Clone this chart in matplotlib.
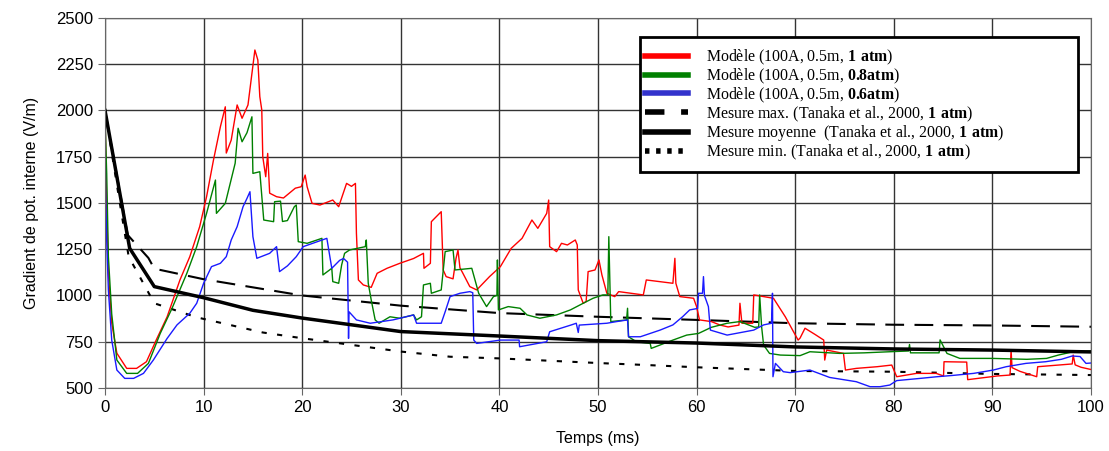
import numpy as np
import matplotlib.pyplot as plt
from matplotlib.lines import Line2D
from matplotlib.patches import Rectangle

plt.rcParams['font.family'] = ['Liberation Sans', 'DejaVu Sans']
plt.rcParams['mathtext.fontset'] = 'custom'
plt.rcParams['mathtext.rm'] = 'Liberation Serif'
plt.rcParams['mathtext.bf'] = 'Liberation Serif:bold'

# Modele 1 atm (rouge)
red_t = [0.0, 0.05, 0.17, 0.34, 0.68, 1.2, 2.2, 3.2, 4.2, 5.2, 6.3, 7.6, 8.6, 9.6, 10.3, 11.0, 11.7, 12.2,
         12.3, 12.8, 13.4, 13.9, 14.5, 14.9, 15.2, 15.5, 15.7, 15.9, 16.0, 16.3, 16.5, 16.7, 17.4, 18.1,
         19.3, 19.9, 20.3, 20.5, 21.0, 21.8, 23.1, 23.7, 24.5, 25.0, 25.4, 25.5, 25.7, 26.2, 27.0, 27.6,
         28.6, 29.9, 31.3, 32.3, 32.35, 33.0, 33.1, 34.1, 34.3, 34.6, 35.3, 35.6, 35.8, 36.0, 36.3, 37.0,
         37.7, 39.0, 40.1, 41.2, 42.3, 43.3, 43.9, 44.8, 45.0, 45.1, 45.8, 46.3, 46.9, 47.7, 47.9, 48.0,
         48.5, 48.8, 49.0, 49.7, 50.1, 50.4, 50.9, 51.7, 52.1, 54.6, 54.9, 57.6, 57.8, 57.9, 58.3, 59.7,
         60.0, 60.3, 61.5, 62.4, 63.2, 64.3, 64.4, 64.6, 65.7, 65.8, 67.8, 69.0, 70.3, 70.5, 71.0, 72.0,
         72.9, 73.0, 73.2, 74.9, 75.1, 76.2, 78.3, 79.8, 80.3, 82.3, 84.3, 85.05, 85.1, 87.4, 87.5, 89.0,
         90.5, 91.8, 91.9, 92.0, 92.8, 94.5, 94.6, 97.0, 98.1, 98.2, 98.4, 99.0, 100.0]
red_v = [1980, 1840, 1480, 1121, 851, 688, 606, 606, 642, 760, 885, 1084, 1210, 1372, 1534, 1732, 1912, 2020,
         1770, 1840, 2030, 1958, 2030, 2200, 2327, 2273, 2075, 2003, 1750, 1642, 1768, 1553, 1534, 1527,
         1580, 1588, 1651, 1588, 1498, 1489, 1516, 1480, 1606, 1590, 1606, 1336, 1084, 1057, 1044, 1120,
         1147, 1174, 1200, 1228, 1147, 1174, 1399, 1453, 1138, 1102, 1090, 1200, 1246, 1150, 1120, 1048,
         1030, 1102, 1156, 1255, 1309, 1408, 1363, 1444, 1516, 1264, 1237, 1282, 1273, 1300, 1273, 1030,
         958, 967, 1129, 1138, 1192, 1111, 1012, 994, 1021, 1003, 1084, 1066, 1201, 1066, 994, 985,
         940, 868, 859, 840, 830, 840, 958, 850, 850, 1003, 985, 885, 759, 770, 823, 790,
         759, 651, 705, 687, 597, 606, 615, 624, 561, 579, 579, 565, 642, 640, 545, 555,
         565, 570, 705, 610, 590, 561, 615, 625, 630, 678, 625, 612, 600]

# Modele 0.8 atm (vert)
green_t = [0.0, 0.17, 0.34, 0.68, 1.2, 2.2, 3.3, 4.4, 5.6, 6.8, 8.3, 9.3, 10.3, 11.2, 11.3, 12.2, 13.2, 13.5,
           13.9, 14.4, 14.9, 15.0, 15.7, 16.1, 17.1, 17.2, 17.8, 18.0, 18.5, 19.2, 19.4, 19.6, 20.5, 22.0,
           22.1, 23.0, 23.1, 23.7, 24.0, 24.3, 24.8, 26.4, 26.5, 26.7, 27.0, 27.4, 27.8, 28.9, 29.9, 31.3,
           31.6, 32.1, 32.3, 33.0, 33.1, 34.1, 34.5, 35.3, 35.5, 37.2, 37.9, 38.7, 39.4, 39.75, 39.8, 39.9,
           40.9, 42.1, 42.8, 44.1, 45.8, 47.2, 48.5, 49.5, 50.5, 51.0, 51.1, 51.3, 52.9, 53.0, 53.1, 53.9,
           55.3, 55.4, 57.6, 59.0, 60.2, 61.5, 63.1, 64.4, 65.9, 66.3, 66.4, 66.6, 66.8, 67.4, 68.5, 70.5,
           71.5, 74.5, 77.0, 79.6, 81.5, 81.6, 81.7, 84.6, 84.7, 85.4, 86.7, 90.0, 93.5, 95.5, 96.7, 98.2,
           100.0]
green_v = [1950, 1660, 1210, 900, 651, 579, 579, 633, 795, 931, 1120, 1264, 1444, 1624, 1444, 1498, 1715, 1904,
           1831, 1880, 1966, 1660, 1669, 1408, 1399, 1507, 1510, 1400, 1405, 1480, 1489, 1291, 1282, 1309,
           1111, 1147, 1075, 1066, 1165, 1228, 1246, 1264, 1300, 1066, 976, 868, 850, 885, 877, 895,
           868, 885, 1057, 1066, 1012, 1030, 1237, 1246, 1138, 1147, 1012, 940, 994, 1000, 1192, 922,
           940, 931, 895, 877, 895, 922, 958, 985, 1003, 1003, 1318, 859, 868, 931, 777, 750,
           741, 714, 759, 786, 795, 828, 850, 859, 828, 830, 1003, 830, 732, 687, 678, 675,
           696, 687, 690, 696, 700, 735, 690, 690, 760, 687, 660, 660, 655, 660, 678, 696,
           700]

# Modele 0.6 atm (bleu)
blue_t = [0.0, 0.05, 0.17, 0.34, 0.68, 1.2, 2.0, 2.9, 3.9, 4.9, 6.3, 7.3, 8.6, 9.3, 10.0, 10.8, 11.7, 12.3,
          12.8, 13.4, 14.0, 14.4, 14.7, 15.0, 15.4, 16.7, 17.4, 17.7, 18.5, 19.4, 20.1, 22.5, 23.0, 23.8,
          24.2, 24.6, 24.7, 24.75, 25.5, 26.9, 29.2, 31.3, 31.6, 34.1, 34.5, 35.0, 36.0, 37.0, 37.3, 37.4,
          37.7, 40.1, 42.0, 42.05, 44.8, 45.1, 47.3, 47.8, 48.0, 48.1, 50.9, 51.9, 53.0, 53.1, 54.3, 56.3,
          57.6, 58.6, 59.3, 60.1, 60.2, 60.6, 60.7, 60.8, 61.2, 61.4, 63.1, 65.8, 66.8, 67.6, 67.7, 67.75,
          68.0, 68.8, 69.5, 71.5, 73.5, 76.2, 77.6, 78.6, 79.6, 80.3, 82.7, 84.4, 86.0, 88.1, 90.1, 91.4,
          93.4, 95.4, 97.0, 98.1, 98.9, 99.5, 100.0]
blue_v = [1880, 1588, 1300, 1030, 759, 597, 552, 552, 579, 651, 768, 841, 904, 958, 1066, 1156, 1174, 1210,
          1300, 1372, 1480, 1525, 1561, 1318, 1201, 1228, 1264, 1129, 1160, 1210, 1264, 1309, 1147, 1190,
          1200, 1180, 768, 912, 868, 850, 868, 895, 850, 850, 912, 994, 1012, 1021, 1015, 759,
          741, 759, 759, 723, 750, 804, 841, 850, 800, 840, 850, 859, 868, 777, 777, 813,
          841, 886, 922, 930, 1012, 1012, 1102, 1000, 940, 813, 786, 813, 841, 850, 1012, 561,
          633, 588, 583, 597, 557, 534, 507, 507, 516, 540, 552, 561, 568, 579, 597, 615,
          633, 642, 655, 673, 670, 633, 635]

# Mesures Tanaka et al. 2000
mes_t = [0, 2.5, 5, 10, 15, 20, 30, 40, 50, 60, 70, 80, 90, 100]
mes_moy = [2000, 1255, 1048, 988, 920, 878, 805, 781, 756, 743, 722, 711, 705, 695]
max_t = [0, 2.3, 4.4, 5, 10, 20, 30, 40, 50, 60, 70, 80, 90, 100]
mes_max = [2000, 1327, 1203, 1145, 1088, 1000, 945, 905, 885, 868, 850, 842, 838, 831]
min_t = [0, 1.5, 2.4, 5, 9.3, 16, 20, 30, 35, 40, 50, 55, 60, 70, 80, 90, 100]
mes_min = [2000, 1500, 1210, 958, 882, 800, 769, 697, 669, 660, 635, 624, 612, 592, 588, 576, 570]

fig = plt.figure(figsize=(11.09, 4.51), dpi=100)
ax = fig.add_axes([0.0947, 0.1397, 0.889, 0.8204])

ax.plot(max_t, mes_max, color='black', lw=1.5, dashes=(9, 5))
ax.plot(min_t, mes_min, color='black', lw=1.5, dashes=(2.5, 5))
ax.plot(red_t, red_v, color='#ff0000', lw=1)
ax.plot(green_t, green_v, color='#008000', lw=1)
ax.plot(blue_t, blue_v, color='#1a1aff', lw=1)
ax.plot(mes_t, mes_moy, color='black', lw=2.5)

ax.set_xlim(0, 100)
ax.set_ylim(500, 2500)
ax.set_xticks(np.arange(0, 101, 10))
ax.set_yticks(np.arange(500, 2501, 250))
ax.grid(True, color='#333333', lw=1)
for s in ax.spines.values():
    s.set_color('#666666')
ax.tick_params(labelsize=12, color='#666666', length=5)
ax.set_xlabel('Temps (ms)', fontsize=11.5, labelpad=12)
ax.set_ylabel('Gradient de pot. interne (V/m)', fontsize=11.5, labelpad=12)

# cadre de la legende
ax.add_patch(Rectangle((0.5426, 0.584), 0.4444, 0.365, transform=ax.transAxes,
                       facecolor='white', edgecolor='black', lw=2, zorder=4))

handles = [Line2D([], [], color='#ff0000', lw=4),
           Line2D([], [], color='#008000', lw=4),
           Line2D([], [], color='#3333cc', lw=4),
           Line2D([], [], color='black', lw=4, dashes=(3.5, 3)),
           Line2D([], [], color='black', lw=4),
           Line2D([], [], color='black', lw=4, dashes=(0.8, 1.2))]
labels = [r'Modèle (100A, 0.5m, $\mathbf{1\ atm}$)',
          r'Modèle (100A, 0.5m, $\mathbf{0.8atm}$)',
          r'Modèle (100A, 0.5m, $\mathbf{0.6atm}$)',
          r'Mesure max. (Tanaka et al., 2000, $\mathbf{1\ atm}$)',
          r'Mesure moyenne  (Tanaka et al., 2000, $\mathbf{1\ atm}$)',
          r'Mesure min. (Tanaka et al., 2000, $\mathbf{1\ atm}$)']
leg = ax.legend(handles, labels, loc='upper left', bbox_to_anchor=(0.5477, 0.92),
                prop={'family': 'Liberation Serif', 'size': 11.4},
                handlelength=2.7, handletextpad=1.15, labelspacing=-0.02,
                frameon=False, borderpad=0, borderaxespad=0)
leg.set_zorder(5)

fig.savefig('out.png', dpi=100)
